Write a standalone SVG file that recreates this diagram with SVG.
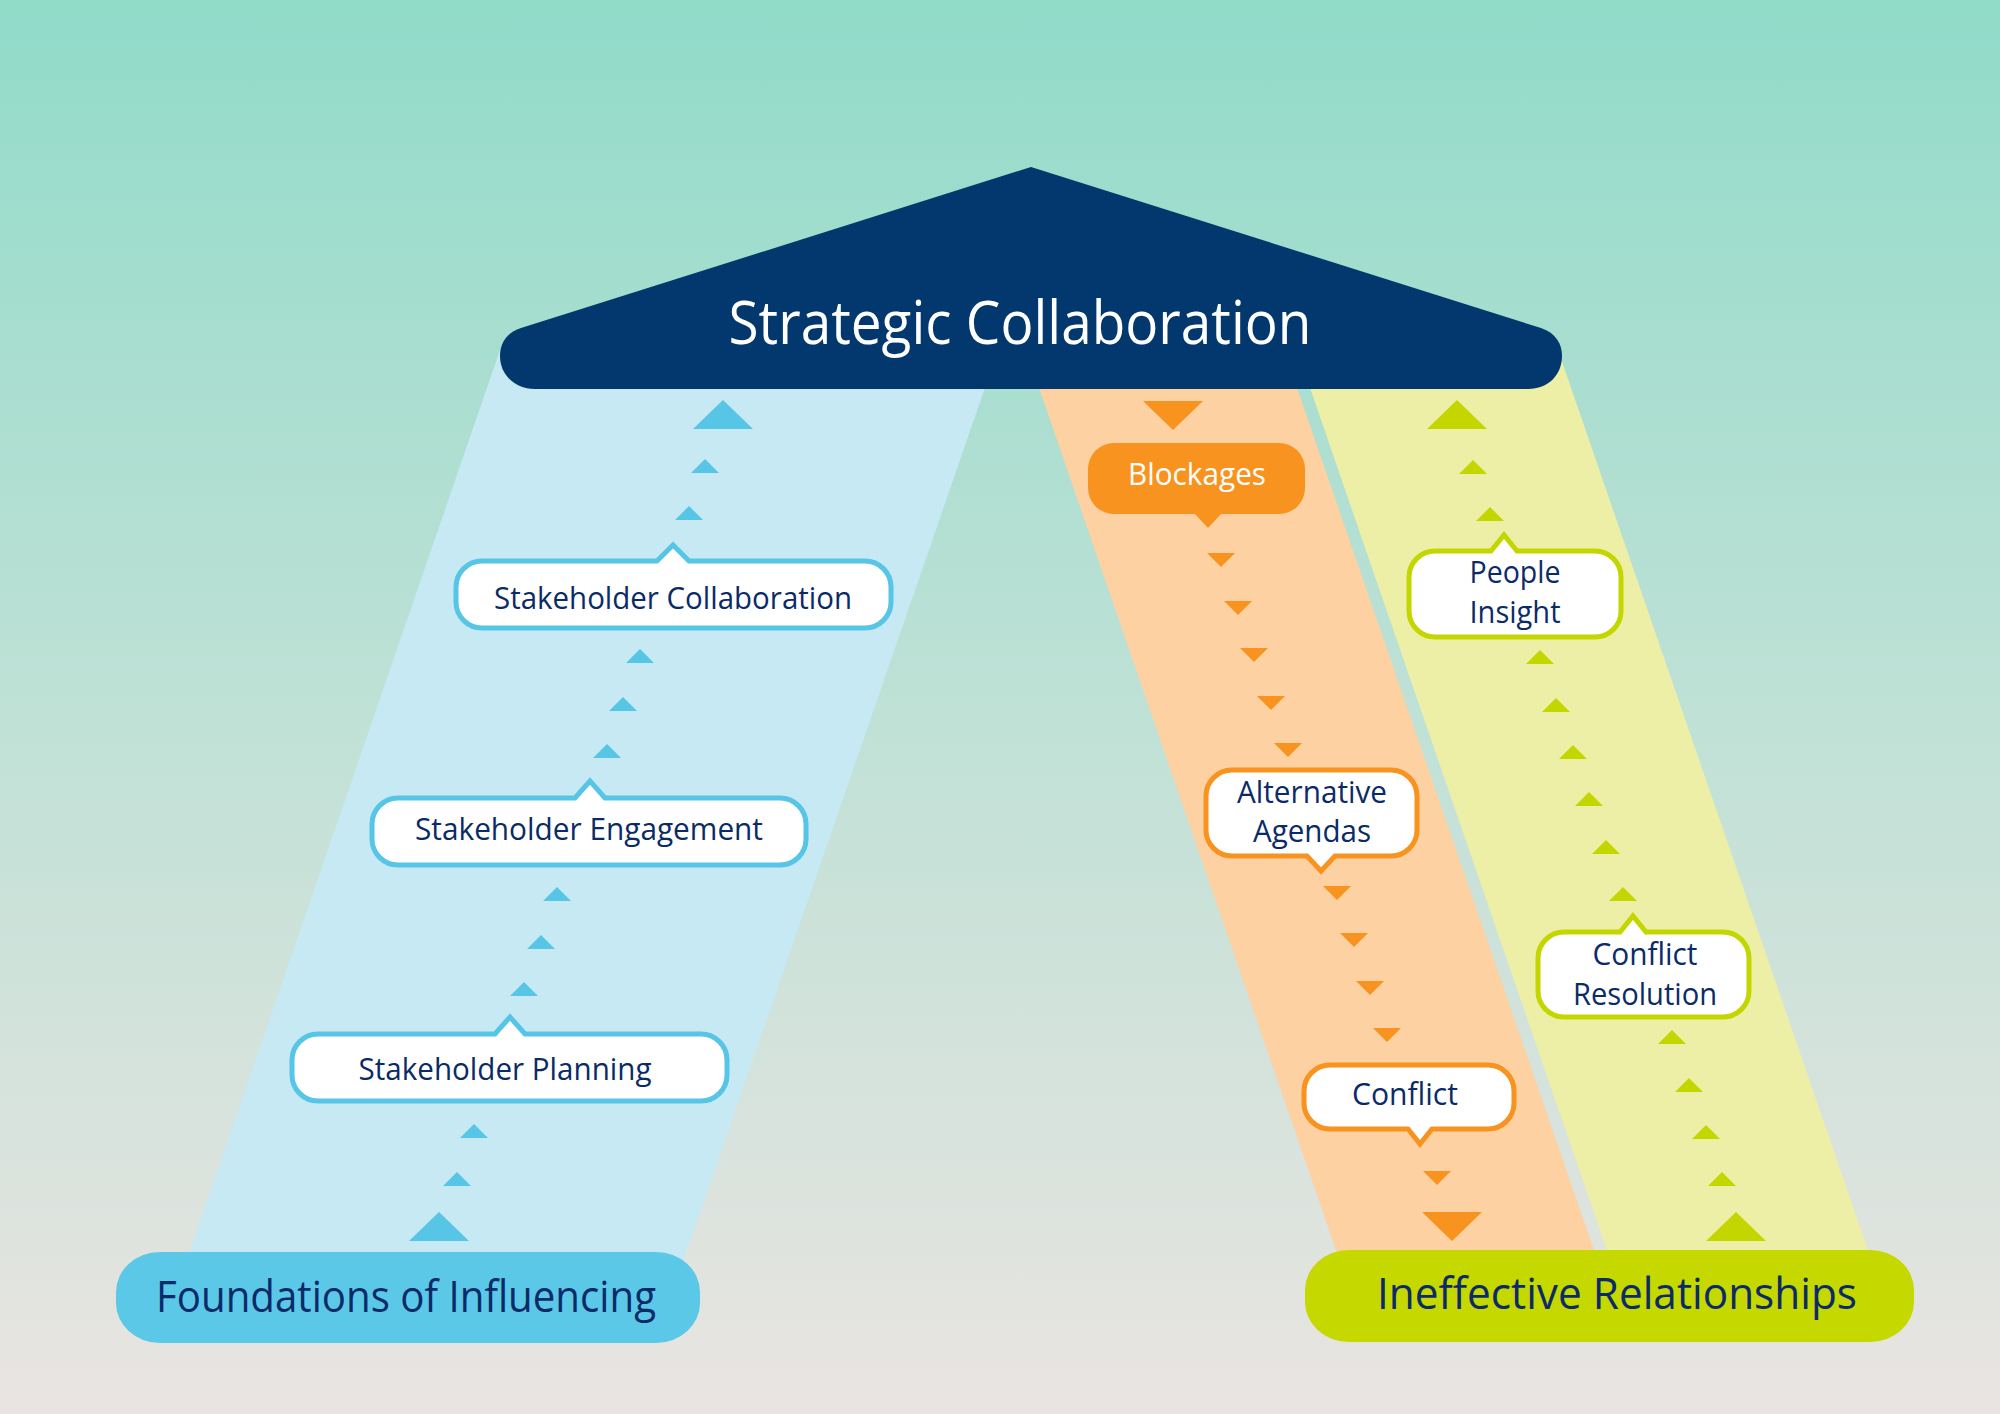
<svg xmlns="http://www.w3.org/2000/svg" xmlns:xlink="http://www.w3.org/1999/xlink" width="2000" height="1414" viewBox="0 0 2000 1414">
<defs>
<linearGradient id="bg" x1="0" y1="0" x2="0" y2="1">
<stop offset="0" stop-color="#91dbc9"/>
<stop offset="0.5" stop-color="#bfe1d6"/>
<stop offset="1" stop-color="#e9e4e1"/>
</linearGradient>
<path id="su" d="M0,0 L14,14 L-14,14 Z"/>
<path id="bu" d="M0,0 L30,29 L-30,29 Z"/>
<path id="sd" d="M-14,0 L14,0 L0,14 Z"/>
<path id="bd" d="M-30,0 L30,0 L0,29 Z"/>
<style>
.t{font-family:"Open Sans","Noto Sans","Liberation Sans",sans-serif;text-anchor:middle;fill:#0b2b68;}
.cb{fill:#ffffff;stroke:#56c5e6;stroke-width:5;}
.co{fill:#ffffff;stroke:#f7931e;stroke-width:5;}
.cg{fill:#ffffff;stroke:#c4d600;stroke-width:5;}
.fb{fill:#56c5e6;}
.fo{fill:#f7931e;}
.fg{fill:#c4d600;}
.lbl{font-size:31px;}
</style>
</defs>
<rect x="0" y="0" width="2000" height="1414" fill="url(#bg)"/>

<g id="beams">
<polygon points="500,350 998,350 683,1262 186,1262" fill="#c6e9f4"/>
<polygon points="1026,350 1284,350 1598,1262 1340,1262" fill="#fdd1a1"/>
<polygon points="1297,350 1558,350 1872,1262 1611,1262" fill="#eeefa6"/>
</g>

<g id="connectors">
<g class="fb">
<use xlink:href="#bu" x="723" y="400"/>
<use xlink:href="#su" x="705" y="459"/>
<use xlink:href="#su" x="689" y="506"/>
<use xlink:href="#su" x="640" y="649"/>
<use xlink:href="#su" x="623" y="697"/>
<use xlink:href="#su" x="607" y="744"/>
<use xlink:href="#su" x="557" y="887"/>
<use xlink:href="#su" x="541" y="935"/>
<use xlink:href="#su" x="524" y="982"/>
<use xlink:href="#su" x="474" y="1124"/>
<use xlink:href="#su" x="457" y="1172"/>
<use xlink:href="#bu" x="439" y="1212"/>
</g>
<g class="fo">
<use xlink:href="#bd" x="1173" y="401"/>
<use xlink:href="#sd" x="1221" y="553"/>
<use xlink:href="#sd" x="1238" y="601"/>
<use xlink:href="#sd" x="1254" y="648"/>
<use xlink:href="#sd" x="1271" y="696"/>
<use xlink:href="#sd" x="1288" y="743"/>
<use xlink:href="#sd" x="1337" y="886"/>
<use xlink:href="#sd" x="1354" y="933"/>
<use xlink:href="#sd" x="1370" y="981"/>
<use xlink:href="#sd" x="1387" y="1028"/>
<use xlink:href="#sd" x="1437" y="1171"/>
<use xlink:href="#bd" x="1452" y="1212"/>
</g>
<g class="fg">
<use xlink:href="#bu" x="1457" y="400"/>
<use xlink:href="#su" x="1473" y="460"/>
<use xlink:href="#su" x="1490" y="507"/>
<use xlink:href="#su" x="1540" y="650"/>
<use xlink:href="#su" x="1556" y="698"/>
<use xlink:href="#su" x="1573" y="745"/>
<use xlink:href="#su" x="1589" y="792"/>
<use xlink:href="#su" x="1606" y="840"/>
<use xlink:href="#su" x="1623" y="887"/>
<use xlink:href="#su" x="1672" y="1030"/>
<use xlink:href="#su" x="1689" y="1078"/>
<use xlink:href="#su" x="1706" y="1125"/>
<use xlink:href="#su" x="1722" y="1172"/>
<use xlink:href="#bu" x="1736" y="1212"/>
</g>
</g>

<g id="node-strategic">
<path d="M1031,167 L1541,328 C1556,333 1562,344 1562,356 C1562,375 1548,389 1528,389 L535,389 C515,389 500,375 500,356 C500,344 506,333 521,328 Z" fill="#02386e"/>
<text class="t" x="1020" y="344" font-size="60" style="fill:#ffffff" textLength="583" lengthAdjust="spacingAndGlyphs">Strategic Collaboration</text>
</g>

<g id="node-foundations">
<rect x="116" y="1252" width="584" height="91" rx="44" ry="40" fill="#5bc8e8"/>
<text class="t" x="406" y="1312" font-size="44" textLength="500" lengthAdjust="spacingAndGlyphs">Foundations of Influencing</text>
</g>

<g id="node-ineffective">
<rect x="1305" y="1250" width="609" height="92" rx="44" ry="40" fill="#c5d800"/>
<text class="t" x="1617" y="1309" font-size="44" textLength="480" lengthAdjust="spacingAndGlyphs">Ineffective Relationships</text>
</g>

<g id="node-stakeholder-collaboration">
<path class="cb" d="M482,561 L657,561 L673,545 L689,561 L865,561 A26,26 0 0 1 891,587 L891,602 A26,26 0 0 1 865,628 L482,628 A26,26 0 0 1 456,602 L456,587 A26,26 0 0 1 482,561 Z"/>
<text class="t lbl" x="673" y="609" textLength="358" lengthAdjust="spacingAndGlyphs">Stakeholder Collaboration</text>
</g>

<g id="node-stakeholder-engagement">
<path class="cb" d="M398,798 L575,798 L590,781 L605,798 L780,798 A26,26 0 0 1 806,824 L806,839 A26,26 0 0 1 780,865 L398,865 A26,26 0 0 1 372,839 L372,824 A26,26 0 0 1 398,798 Z"/>
<text class="t lbl" x="589" y="840" textLength="348" lengthAdjust="spacingAndGlyphs">Stakeholder Engagement</text>
</g>

<g id="node-stakeholder-planning">
<path class="cb" d="M318,1034 L495,1034 L510,1017 L525,1034 L701,1034 A26,26 0 0 1 727,1060 L727,1075 A26,26 0 0 1 701,1101 L318,1101 A26,26 0 0 1 292,1075 L292,1060 A26,26 0 0 1 318,1034 Z"/>
<text class="t lbl" x="505" y="1080" textLength="293" lengthAdjust="spacingAndGlyphs">Stakeholder Planning</text>
</g>

<g id="node-blockages">
<path class="fo" d="M1114,443 L1279,443 A26,26 0 0 1 1305,469 L1305,488 A26,26 0 0 1 1279,514 L1221,514 L1208,528 L1195,514 L1114,514 A26,26 0 0 1 1088,488 L1088,469 A26,26 0 0 1 1114,443 Z"/>
<text class="t lbl" x="1197" y="485" style="fill:#ffffff" textLength="138" lengthAdjust="spacingAndGlyphs">Blockages</text>
</g>

<g id="node-alternative-agendas">
<path class="co" d="M1232,770 L1391,770 A26,26 0 0 1 1417,796 L1417,830 A26,26 0 0 1 1391,856 L1335,856 L1321,871 L1307,856 L1232,856 A26,26 0 0 1 1206,830 L1206,796 A26,26 0 0 1 1232,770 Z"/>
<text class="t lbl" x="1312" y="803" textLength="150" lengthAdjust="spacingAndGlyphs">Alternative</text>
<text class="t lbl" x="1312" y="842" textLength="118" lengthAdjust="spacingAndGlyphs">Agendas</text>
</g>

<g id="node-conflict">
<path class="co" d="M1330,1065 L1488,1065 A26,26 0 0 1 1514,1091 L1514,1103 A26,26 0 0 1 1488,1129 L1432,1129 L1420,1144 L1408,1129 L1330,1129 A26,26 0 0 1 1304,1103 L1304,1091 A26,26 0 0 1 1330,1065 Z"/>
<text class="t lbl" x="1405" y="1105" textLength="106" lengthAdjust="spacingAndGlyphs">Conflict</text>
</g>

<g id="node-people-insight">
<path class="cg" d="M1435,551 L1491,551 L1504,535 L1517,551 L1595,551 A26,26 0 0 1 1621,577 L1621,611 A26,26 0 0 1 1595,637 L1435,637 A26,26 0 0 1 1409,611 L1409,577 A26,26 0 0 1 1435,551 Z"/>
<text class="t lbl" x="1515" y="583" textLength="91" lengthAdjust="spacingAndGlyphs">People</text>
<text class="t lbl" x="1515" y="623" textLength="91" lengthAdjust="spacingAndGlyphs">Insight</text>
</g>

<g id="node-conflict-resolution">
<path class="cg" d="M1564,932 L1620,932 L1633,916 L1646,932 L1723,932 A26,26 0 0 1 1749,958 L1749,991 A26,26 0 0 1 1723,1017 L1564,1017 A26,26 0 0 1 1538,991 L1538,958 A26,26 0 0 1 1564,932 Z"/>
<text class="t lbl" x="1645" y="965" textLength="105" lengthAdjust="spacingAndGlyphs">Conflict</text>
<text class="t lbl" x="1645" y="1005" textLength="144" lengthAdjust="spacingAndGlyphs">Resolution</text>
</g>
</svg>
